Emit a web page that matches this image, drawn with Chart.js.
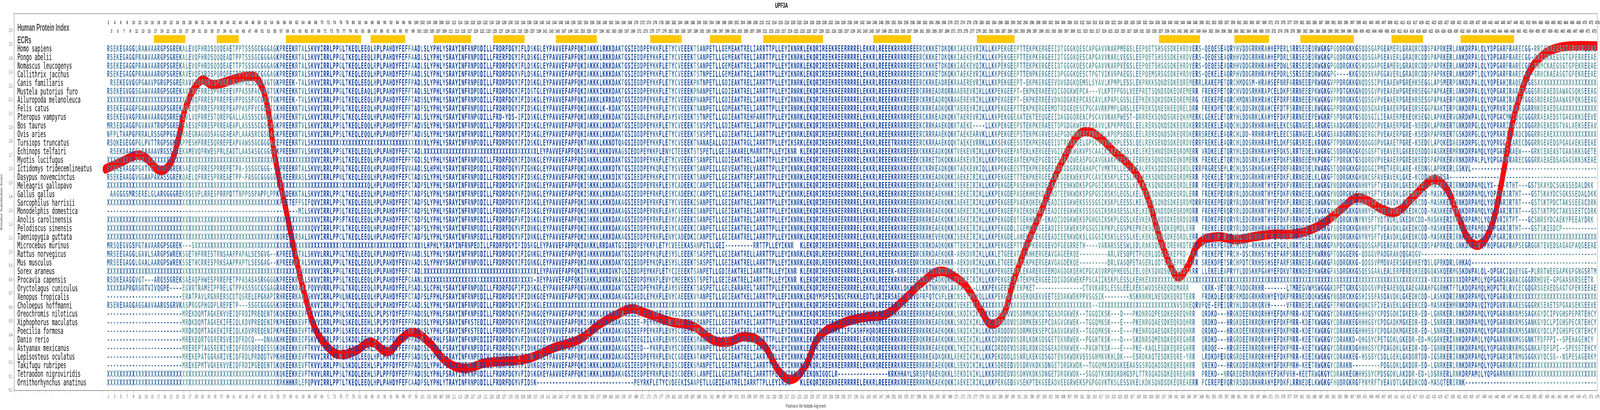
<!DOCTYPE html>
<html>
<head>
<meta charset="utf-8">
<script src="https://cdn.jsdelivr.net/npm/chart.js@4.4.1/dist/chart.umd.min.js"></script>
<style>
  html, body { margin: 0; padding: 0; background: #fff; overflow: hidden; }
  #myChart { display: block; transform-origin: 0 0; }
</style>
</head>
<body>
<canvas id="myChart"></canvas>
<script>
// species shown in the alignment, top to bottom
const species = [
  'Homo sapiens', 'Pongo abelii', 'Nomascus leucogenys', 'Callithrix jacchus', 'Canis familiaris',
  'Mustela putorius furo', 'Ailuropoda melanoleuca', 'Felis catus', 'Pteropus vampyrus', 'Bos taurus',
  'Ovis aries', 'Tursiops truncatus', 'Echinops telfairi', 'Myotis lucifugus', 'Ictidomys tridecemlineatus',
  'Dasypus novemcinctus', 'Meleagris gallopavo', 'Gallus gallus', 'Sarcophilus harrisii', 'Monodelphis domestica',
  'Anolis carolinensis', 'Pelodiscus sinensis', 'Taeniopygia guttata', 'Microcebus murinus', 'Rattus norvegicus',
  'Mus musculus', 'Sorex araneus', 'Procavia capensis', 'Oryctolagus cuniculus', 'Xenopus tropicalis',
  'Choloepus hoffmanni', 'Oreochromis niloticus', 'Xiphophorus maculatus', 'Poecilia formosa', 'Danio rerio',
  'Astyanax mexicanus', 'Lepisosteus oculatus', 'Takifugu rubripes', 'Tetraodon nigroviridis', 'Ornithorhynchus anatinus'
];

const X = n => 'X'.repeat(n);
const D = n => '-'.repeat(n);

// alignment columns 1-93
const seqA = [
  'RSEKEGAGGLRAAVAARGPSGREKALEVQFHRDSQQQEAETPPTSSSGCGGGAGKPREEKRTALSKVVIRRLPPGLTKEQLEEQLRPLPAHDY',
  'RSEKEGAGGPRAAVAARGPSGREKALEVQFHRDSQQQEADTPPTSSSGCGGGAGKPREEKRTALSKVVIRRLPPGLTKEQLEEQLRPLPAHDY',
  'RSEKEGAGGPRAAVAARGPSGREKALEVQFHRDSQQQEAETTPTSSSGCGGGAGKPREEKRTALSKVVIRRLPPGLTKEQLEEQLRPLPAHDY',
  'RSEKEGAGGPRAAAAARGPSGREKAVEVQFYRDSPQRQPETPPTSSSGCGGGAGKPREEKRTALSKVVIRRLPPGLTKEQLEEQLHPLPAHDY',
  'RSEKEGVGGPGAAVPGRGPSGRERAVGTQFRRESPWREAEAHPALSSGGVGTGKPREEK-TALSKVVIRRLPPGLTKEQLEEQLHPLPAHDY',
  'RSEKEGVGGSGAAVAARGPSGREKAVEVQFRRESPRREPEVPPASSFACGGGTSKPREEKKTVLSKVVIRRLPPGLTKEQLEAQLQPLPAHDY',
  X(26) + 'VQFRRESPRREPEVPPDSSFGCGGVTGKPREEK-TVLSKVVIRRLPPSLTKEQLEEQLRPLPAHDY',
  'RSEKEGAGGPGAAVAARGPSGREKAVEVQFRRESPRREPEAPPASFFVCGDGICKHREEKKTVLSKVVIRRLPPSLTKEQLEEQLHPLPAHDY',
  'RSEKEGVAGPRAAVAARGQSRREKSVLVQFRRESTQREPGALLASSSSCGGSAGKPREEKRTVLSKVVIRRLPPSLTKEQLEEQLHPLPAHDY',
  'MRSEDGAGGPGVAVATRGPSGREKSAESQFRRESPRREAEAPLASSSSCGSGAGKPREEKRTVLSKVVIRRLPPSLTKEQLEQQLHPLPAHDY',
  'NFPLTAAPGPRRALRSSGPPGGARRAEGRAGGDSAGGEAEAPLAAASRCGSGAGKPREEKRTVLSKVVIRRLPPSLTKEQLEQQLHPLPAHDY',
  'RSQKEGEGGPGLPVTTRGPSGKEKPPESHFRRESQRREPEAPVAWSSGCGGGAVEPREEKRTVLSK' + X(27),
  'RSEKDAAGGLRAAAAVRGSSGREKAMEVQFRWESPRLEADTLAASASGCGGGGKPREEKRTVLSKVVIRRLPPSLTKEQLEEQLHPLPAHDY',
  X(67) + 'QVVIRRLPPSLTKEQLEEQLHPLPAHDY',
  'RSEKERAGGPGATVGTRGPGGREKSAEVQFRRESPRREPETPA-SSSGCGGG--KPREEKRTALSKVVLRRLPPGLTKEQLEEQLHPLPAHDY',
  'RSEKEAAGGVGGAAPARASSGREKQAELQFRRESPRREAETPP-FASGCGGGGGKSREERRASLSKVVIRRLPPNLTKEQLEEQLHPLPAHDY',
  X(84) + 'QLHPLPAHDY',
  'AAGGGSMRSERELGLARGGGGREKRSEVPLRRESPRRPDTTNPPSSPAPPLPPKQRDEKKTALSKVVIRRLPPCLTKEQLEEQLHPLPAHDY',
  X(55) + 'KPRETEFFSIFQVVIRRLPPSLTKEQLEEQLHPLPAHDY',
  D(63) + 'MILSKVVIRRLPPSLTKEQLEEQLHPLPAHDY',
  X(67) + 'VVIRRLPPSFTKEQLEEQLHPLPAHDY',
  X(67) + 'QVVIRRLPPCLTKEQLEEQLHPLPAHDY',
  X(53) + 'KQREEKRSALSKVVIRRLPPCLTKEQLEEQLHPLPAHDY',
  'MRSQEGVGSPGTAVAARGPSGREK---S' + X(65),
  'MRSEEGAGGLGAVLSARGPSWREKSGETHFRRESTRNSAAPPAPALSESGVG--KPREEKRTALSKVVLRRLPPGLTKEQLEEQLRPLPAHDY',
  'MRSEEGAGGLGAALAARGPSWREKSSETHCRRESPRKSAAPPAPTLSESGAG--KPREEKRTALSKVVLRRLPPGLTKEQLEEQLRPLPAHDY',
  X(67) + 'VVIRRLPPGLTKEQLEEQLHPLPAHDY',
  'RSDKEAAGGVGT---ARGSSGREKSAEAQFHWESPRREPETPPASASASRGGGGKPREEKRTALSKVVIRRLPPSLTKEQLEEQLRPLPAHDY',
  'XXXXXAPRGRGRTVIVQGPE----EGVRTRAMEIPFRELGTPPASSSGCGSGAGRAREEKRAALPQVVVRRLPPGLTKRQLEEQLRPLPAHDY',
  D(24) + 'ERATPAVLRGNRERSCDTQSRELEPGNAPIRHREERKAALSKVVIRRLPPNLNKEQLEEQLHPLPAHDY',
  'RSENEAAGGAGGAAVAARGSGRVKASPRGGPHGDPLREPETP---SSGCGGGGSKSREEKRAILSKVVIRRLPPSLTKEQLEEQLHPLPAHDY',
  D(24) + 'MREKDQMTAGKEKVVEIQFRDIPREQENTSKQKEEKKEVFTKVVIRRLPPNLSKEQLEEQLSPLPSYDY',
  D(24) + 'MRDKDQMTAGKEKIFEIQLKDVPREQENIPKPKEEKKEVFTKVVIRRLPPNLSKEQLEEHLSPLPSYDY',
  D(24) + 'MRDKDQMTAGKEKIFEIQLKDVPREQENIPKPKEEKKEVFTKVVIRRLPPSLSKEQLEEHLSPLPSYDY',
  D(24) + 'MREKEQRTGSRERSVEIQFRDCQ---DNAAKHKEEKKEIFSKVVIRRLPPSLSKDQLEEHLSPLPSFDY',
  D(24) + 'MREREPTAGSRERIVEIQFRDSQREQESSSKQKEEKKEVFTKVVIRRLPPSLSKDQLEEHLSPLPSFDY',
  D(24) + 'MREKEPATGGRARIVEIQFRDLPRDQDTVPKHKEEKKEVFTKVVIRRLPPNLSKEQLEEQLHPLPAYDY',
  D(24) + 'MREKEPMTVGKEKVVEIQFRDIPGEQENTSKQKEEKKEVFTKVVLRRLPPNLSKDQLEEHLSPLPPFDY',
  X(55) + 'KQKEEKKEVFTKVVLRRLPPSLTKDQLEEHLSPLPPFDY',
  X(55) + 'RKHHKRLEFQPVVIRRLPPTLTKEQLEEQLHPLPAHDY'
];

// alignment columns 94-221
const seqB = [
  'FEFFAADLSLYPHLYSRAYINFRNPDDILLFRDRFDGYIFLDSKGLEYPAVVEFAPFQKIAKKKLRKKDAKTGSIEDDPEYKKFLETYCVEEEKTSANPETLLGEMEAKTRELIARRTTPLLEYIKNR',
  'FEFFAADLSLYPHLYSRAYINFRNPDDILLFRERFDGYIFLDSKGLEYPAVVEFAPFQKIAKKKLRKKDAKTGSIEDDPEYKKFLETYCVEEEKTSANPETLLGEMEAKTRELIARRTTPLLEYIKNR',
  'FEIFAADLSLYPHLYSRAYINFRNPDDILLFRDRFDGYIFLDSKGLEYPAVVEFAPFQKIAKKKLRKKDAKTGSIEDDPEYKKFLETYCVEEEKTSANPETLLGEMEAKTRELIARRTTPLLEYIKNR',
  'FEFFAADLSLYPHLYSRAYINFRNPDDILLFRDRFDGYVFLDSKGLEYPAVVEFAPFQKIAKKKLKKKDAKTGSIEDDPEYKKFLETYCVEEEKTSTNPEILLGEMEAKTRELIARRTTPLLEYIKNR',
  'FEFFPADLSLYPHLYSRAYINFRNPEDILLFRDRFDGYIFIDSKGLEYPAVVEFAPFQKIAKKKLKKKDAKTGSIEDDPEYKKFLETYCVEEEKPNTNPETLLGDIEAKTRELIARRTTPLLEYIRNR',
  'FEFFTADLSLYPHLYSRAYINFRDPDDILLFRDRFDGYIFIDSTGLEYPAVVEFAPFQKIAKKKIKKKDAKTGSIEDDPEYKKFLETYCVEEEKPNANPETLLGDIEAKTRELIARRTTPLLEYIRNR',
  'FEFFTADSSLYPHLYSRAYINFRNPDDILLFRDRFDGYIFIDSKGLEYPAVVEFAPFQKIAKKKLKRKDAQTGSIEDDPEYKKFLETYCVEEEKPNANPETLLGDIEAKTRELIARRTTPLLEYIRNR',
  'FEFFTADFSLYPHLYSRAYINFRNPDDILLFRDRFDGYIFIDSKGLEYPAVVEFAPFQKIAKKKLK-KDAKTGSIEDDPEYKKFLETYCVEEEKTNANPETLLGDMEAKTRELIARRTTPLLEYIRNR',
  'FEFFTADLSLYPHLYSRAYINFRNPGDILLFRD-YDS-IFIDSKGLEYPAVVEFAPFQKIAKRRLKKKDAKTGSIEGDLEYKRFLEAYSVEEEKTSTNPETLLGDIEAKTREHFARRTTPLLEYIKNR',
  'FEFFTADVSLYPHLYSRAYINFRNPDDILLFRDRFDGYIFIDSKGLEYPAVVEFAPFQKIAKKKLKKKDAKTGSIEDDPEYKKFLETYCVEEEKTSVSPETLLGDIEAKTRELIARRTTPLLEYIKNR',
  'FEFFTADVSLYPHLYSRAYINFRNPDDILLFRDRFDGYIFIDSKGLEYPAVVEFAPFQKIAKKKLKKKDAKTGSIDDDPEYKKFLETYCVEEEKTSVSPETLLGDIEAKTRELIARRTTPLLEYIKNR',
  X(9) + 'LYPHLYSRAYINFRNPDDILLFRDRFDGYIFIDSKGLEYPAVVEFAPFQKTAKKKLKKNDTQAGSIEDDPEYKKFLETYCVEEEKTNANAEALLGDIEAKTRGLIARRTTPLLEYIKSR',
  'FEFCTADL' + X(36) + 'LEYPAVVEFAPFQKISKKKLKKKDVKAGSIEDDPEYKKFLENYCTEEEKTSTSPETLLGEIEAKARELMARRTTPLLEYIKNR',
  'FEFFTGDLSLYPHLYSRAYINFRNPDDILLFRDRFDGYIFIDNKGLEYPAVVEFAPFQKIAKKKLKKKDAKTGSIDDDPEYKKFLETYCVEEEKTSANPETLLGDIEAKTRELIARRTTPLLEYIKNR',
  'FEVVAADLSLHPHLYSRAYINFRDPDDILLFRDRFDGYVFIGNKGLEYPAVVEFAPFQKIAKKKLKKKDTKTGSIEDDPEYKQFLETYSVEEEKTSANPEILLGEVEAKTRELVARRTTPLLEYIKNR',
  'FEFCTADVSLYPHLYSRAYINFRNPDDILLFRDRFDGYIFIDSKGLEYPAVVEFAPFQKISKKKLKKKDIKTGSIEEDPEYKKFLETYCVEEEKTSANPETLLGEIEAKTREFIARRTTPLLEYIKNR',
  'FEFCTADPSLYPHLYSRAYINFRNPEDILLFRDRFDGYVFIDNKGLEYPAVVEFAPFQKISKKKLKKKDAKAGSIEDDPEYRKFLESYCADEEKICANPETLLGEIEAKTRELIARRTTPLLEYIKNR',
  'FEFCTADPSLYPHLYSRAYINFRNPEDILLFRDRFDGYVFIDNKGLEYPAVVEFAPFQKISKKKLKKKDAKAGSIEDDPEYRKFLESYCADEEKICANPETLLGEIEAKTRELIARRTTPLLEYIKNR',
  'FEFCTADPSLYPHLYSRAYINFRNPDDILLFRDRFDGYVFIDSKGLEYPAVVEFAPFQKISKKKLKKKDAKAGSIEEDPEYRKFLETYCVEEEKISANPETLLGEIEAKTRELIARRTTPLLEYIKNR',
  'FEFCTADPSLYPHLYSRAYINFRNPDDILLFRDRFDGYVFIDSKGLEYPAVVEFAPFQKISKKKLKKKDAKAGSIEDDPEYRKFLEAYCVEEEKISANPETLLGEIEAKTRELIARRTTPLLEYIKNR',
  'FEFCTSDPSLYPHLYSRAYINFRNPEDILLFRDRFDGFVFIDSKGLEYPAVVEFAPFQKISKKKLKKKDAKAGSIEDDPEYRKFLESYCAEEEKISANPETLLGEIEAKTRELIARRTTPLLEYIKNR',
  'FEFCTADPSLYPHLYSRAYINFRNPDDILLFRDRFDGYVFIDNKGLEYPAVVEFAPFQKISKKKLKKKDAKAGSIEDDPEYRKFLESYCADEEKICANPETLLGEIEAKTRELIARRTTPLLEYIKNR',
  'FEFCTADPSLYPHLYSRAYINFRNPEDILLFRDRFDGYVFIDNKGLEYPAVVEFAPFQKISKKKLKKKDAKAGSIEDDPEYRKFLENYCADEDKICANPETLLGEIEAKTRELIARRTTPLLEYIKNR',
  X(8) + 'LHPHLYSRAYINFRNPEDILLFRDRFDGYIFIDSKGLEYPAVVEFAPFQKIAKKKLRRDAKTGSIEDDPEYKKFLETYCVEEEKASANPETLLGEI' + D(9) + 'RRTTPLLEYIKNR',
  'FEVVAADLSLYPHLYSRAYINFRNPDDILLFRDRFDGYIFIGNKGLEYPAVVEFAPFQKIAKKKVKKKDAKTGSIEDDPEYKQFLESYSLEEEKTSASPETLLGEIEAKTRELLARRTTPLLEYIKNR',
  'FEVVAADLSLYPHVYSRAYINFRNPDDILLFRDRFDGYIFIGNKGLEYPAVVEFAPFQKIAKKKLKKKDAKTGSIEDDPEYKQFLESYSLEEEKTSASPETLLGEIEAKTRELLARRTTPLLEYIKNR',
  'FEFCTADL' + X(36) + 'LEYPAVVEFAPFQKITKKKLKKKDVKTGSIEDDPEYKKFLETYCIEEEKTSANPETLLGDIEAKTRELIARRTTRLLEYIKNR',
  'FEFCAANL' + X(35) + '-XEYPAVVEFAPFQKISKKKLKKRDVKAGSIEDDPDYKKFLEVYCMEEEKSSTSPETLLGEIEAKTRELIARRTTPLLEYIKNR',
  'FELFSADLSLCPHLYSRAYINFRNPDDILLFRDRFDGFIFIDSKGLEYPAVVEFAPFQKVAKKKLKKKDAKTGSIEDDPEYKRFLEAYSVEEEKTSASPETLLGELEARARELTARRTTPLLEYIKNR',
  'FEFCTADPSLFPHLFSRAYINFRNPEDILLFRDRFDGYIFIDNKGQEYPAVVEFAPFQKISKKKLKKKDAKAGSIAEDLEYKKFLENYCAEEEKVYANPETLLGEIEAKTKELIARRTTPLLEFIKNR',
  'FEFCAADLSLYPHLYSRAYINFRNPDDILLFRDRFDGYIFIDSKGLE' + X(68) + 'RRTTPLLEYIKNR',
  'FEFFPADQSLYPHLFSRAYINFKNPEDILLFRDRFDGYVFIDNKGQEYPAVVEFAPFQKISKKKLKKKDAKAGSIEE-PEYKRFLENYSCDEEKSMANPETLLGEIEAKTKELIAKRTTPLLEYIKNK',
  'FEFFPADQSLYPHLFSRAYINFKSTEDILLFRDRFDGYVFIDNKGQEYPAVVEFAPFQKISKKKLKKKDAKAGSIEE-PEYKRFLENYSCDEEKSMANPEILLGEIEAKTKELIAKRTTPLLEYIKNK',
  'FEFFPADQSLYPHLFSRAYINFKSTEDILLFRDRFDGYVFIDNKGQEYPAVVEFAPFQKISKKKLKKKDAKVGSIEEFPEYKRFLENYSCDEEKSMANPETLLGEIEAKTRELIAKRTTPLLEYIKNK',
  'FEFFPADQSLYPHLFSRAYINFKNPEDIIIFRDRFDGYVFIDNKGQEYPAVVEFAPFQKVSKKKLKKKDAKAGTIEEGIILKRFLENYSCDEEKSMANPETLLGEIEAKTRELIAKRTTPLLEYIKNK',
  'FEFFPADQSLYPHLFSRAYINFKNPEDIVLFRDRFDGYVFIDNKGQEYPALVEFAPFQKVSKKKLKKKDAKAGSIEED--YKRFLENYSCDEEKSMANPETLLGEIEAKTRELIAKRTTPLLEYIKNK',
  'FEFFSADQSLYPHLFSRAYINFKNPEDIVLFRDRFDGYVFIDNKGQEYPAVVEFAPFQKIAKKKLKKKDAKAGSIEEDPEYRKFLENCCGDEEKATANPETLLGEIEAKTRELIAKRTTPLLEYIKNK',
  'FEFFPADQSLYPHLFSRAYINFKNPEDILLFRDRFDGYVFIDNKGQEYPAVVEFAPFQKISKKKLKKKDAKAGSIEEDPEYRKFLENISCDEEKSMANPETLLGEIEAKTRELIARRTTPLLEYIKNK',
  'FEFFPADQSLYPHLFSRAYINFKNPDDILLFRDRFDGYVFIDSKGKEYAAVVEFAPFQKISKKKLKKKDAKAGSIEEDPEYRKFLENISCDEEKSLANPEILLGEIEAKTRELIARRTTPLLEYIKNK',
  'FEFCAADPSLYPHLYTRAYINFRNPDDILLFRDRFDGYVFIDSK' + D(31) + 'PEYRKFLETYCVDEEKISANPETLLGEIEAKTRELIARRTTPLLEYIRSR'
];

// alignment columns 222-349
const seqC = [
  'KLEKQRIREEKREERRRRELEKKRLREEEKRRRRREEERCKKKETDKQKKIAEKEVRIKLLKKPEKGEEPTTEKPKERGEEIDTGGGKQESCAPGAVVKARPMEGSLEEPQETSHSGSDKEHRDVERS',
  'KLEKQRIREEKREERRRRELEKKRLREEEKRRRRREEERCKKKETDKQKKIAEKEVRIKLLKKPEKGEEPTTEKPKERGEEIDTGGGKQESCAPGAVVKARLVEGSLEEPQETSHSSSDKEHRDVERS',
  'KLEKQRIREEKREERRRRELEKKRLREEEKRRRRREEERCKKKETDKQKKIAEKEVQIKLLKKPEKGEEPTTEKPKERGEEIDTGGGKQESCAPGAVVKARPVEGSLEEPQETSHSGSDKEHRDVERS',
  'KLEKQRIREEKREERRRRELEKKRLREEEKRRRRREEERCKKRETDKQKKTAEKEVRIKLLKKPEKGEEPTTENPKERGEEIDPGGGKQESCTPGTVIKVRPAEGSLEEPQEMSRSGSDKEHRDVERS',
  'KLEKQRIREEKREERRRRELEKKRLREEEKRKRRREEERCKRKEADREKRAAEREVRIKLLKKPEKGEEPT-EKPKERGEEVDVGDGKQEMSLSYAVLKPMPLESSLEKPRKKSQNDSDKEQREMERR',
  'KLEKQRIREEKREERRRRELEKKRLREEEKRKKREEERCRRKEADRQRRAAEREVRIKLLKKPEKGEEPT-EKPKERAEEVDIGDGKWEPCA---VLKPTPFGSLVEEPRETSQNDSDKEQREMERR',
  'KLEKQRIREEKREERRRRELEKKRLREEEKRKKREEERCKRKEADRQKRAAEREVRIKLLKKPEKGEEPT-EKPKERREEVDNGDGKREPCASCAVLKPAPLGSSLEEPKEKSQKDSDKEQREMERG',
  'KLEKQRIREEKREERRRRELEKKRLREEEKRKKRDEERCKRKEADKQKRTAEREVRIKLLKKPEKGEEPTTEKPKERGEEMDTRDGEQESCPGCAVRKPMPLGNSLEEPREKSQNESNEEQRELDRR',
  'KLEKQRIREEKREERRRRELEKKRLREEEKRKRRREEERCKRKEADKQKKTAEREVRIKLLKKPEKGGEAATEKTEEQGEEIDAGDGQREACPSCAVVKAKPWEST-DRRREKSQNDSGKEQKHMERK',
  'KLEKQRIREEKREERRRRELEKKRLREEEKRRRRREEEKCRRKAAEKQKKTAEKE----LLKKPEKGEEPSTEKPKERAEETDPGDGKWEPCPSAVVLKPKPPEGSLEELRERSQNDSDKEQRDKERR',
  'KLEKQRIREEKREERRRRELEKKRLREEEKRRRRREEERCRRRAAEKQKKTAEKEARVKLLKKPEKGEEPSTEKPKGRVEEAEPGDGRWEPCPRGVVLKPQPSEGSLEELRERSQNDSDKEQRDKERR',
  'KLEKQRIREEKREERRRRELERKRLREEETRRRRREEERCKRRAAEKQQKTAEKEVRRKLLKKSEKGEESSTEKPKERGEEIDTRGGKQELGPSCVVVKPRPLESSLQELREKSENDSDKEQRDVERR',
  'KLEKQRIREEKREERRRRELEKKRLREEEKRKRREEEKCKKKEADKQKKTVEKEVRIKLLKKPEKGEEPATEKLKERGEEVGIGDGKWGKVPSCAAIKSKPLESSLKELEKESHNDSDKEQRDMERR',
  'KLEKQRIREEKREERRRRELEKKRIREEEKRKKREEEKCKRKETDKQKKAAEKEVRIKLLKKPDKGEEAATEKPKEPGEDIESGEGQWEASPGCAVGKAKPRESPLEERREKSQNDSDKEQKDMERK',
  'KLEKQRIREEKREERRRRELEKKRLREEEKRKRKKEEEKCKRKEADKQKKTAEKEVKIQLLKKPEKGEESTTEKPKERGEEAGVGDGRREAHAPCTVMKTRLLESLPEALREKSQDDSDGEQRDLERR',
  'KLEKQRIREEKREERRRRELEKKRLREEEKRRRREEERCKRKEADKQKKIAEKEIRIKLLKKPEKGEETTTEKPKERGEEINIGDEKWEKSPCCAVIKSKPLEISLKELKEKSQNDSDKEQRDMERR',
  'KLEKQRIREEKREERRRRELEKKRLREEEKRKRREEERRKRKEAEKHKKISEKEIRIKLLKKPEKGDEPASEKHKEKDEEADTEENKWDKSPGPGSIRSKSLEGSLKELKEKSQNDSDKEQRDLERR',
  'KLEKQRIREEKREERRRRELEKKRLREEEKRKRREEERRKRKEAEKHKKISEKEIRIKLLKKPEKGDEPASEKHKEKDEEADTEENKWDKSPGPGSIRSKSLEGSLKELKEKSQNDSDKEQRDLERR',
  'KLEKQRIREEKREERRRRELEKKRLREEEKRKRREEERRKRKEAEKQKKIAEKEIRIKLLKKPEKGEEPVAEKQKEKGEEADIEEGKWEKSSSSGSIKSKPLEESSLKELKEKSQNDSDKEQRDMDRR',
  'KLEKQRIREEKREERRRRELEKKRLREEEKRKRREEERRKRKEAEKQKKIAEKEIRIKLLKKPEKGEEPAIEKQKEKGEEADIEEGKWEKSSSSGSIKSKASESSLKELKEKSQNDSDKEQRDMDRR',
  'KLEKQRIREEKREERRRRESEKKRLREDEKRKRREEERRKRKEAEKQKKIAEKEIRIKLLKKPEKGDEQTSEKHREK-EKADIDDSKWEKSPGHGSIKSKPLEGSLKEVKEKSQNDSDKEQRDSDRR',
  'KLEKQRIREEKREERRRRELEKKRLREEEKRKRREEERRKRKEAEKQKKIAEKEIRIKLLKKPEKGDDLIGEMKEKGEEADIEESKWEKSPGSGSIKPKPLEGSPKEPKEKSQNDSDKEQMDLERR',
  'KLEKQRIREEKREERRRRELEKKRLREEEKRKRREEERRKRKEVEKQKKISEKEIRIKLLKKPEKGDELANEKHKEKGEEADIEENKWDKSLGSGSIKSKSLESSLKELKEKSQNDSDKEQRDLERR',
  'KLEKQRIREEKREERRRRELEKKRLREEEKRKRREEERCKRKDADKQKKTTEKEIRIKLLKKPEKGEEPTTEKPKERGEEVDFGEGRRETH----VARARSSESWLEDLRAKSQNDIDREHRDTERR',
  'KLEKQRLREEKREERRRRELEKKRLREEEKRKRREEDRCKRKDAEKQKR-AEKDVRIKLLKKLETGEEATTEKHKERGEAVGAGEEKQE---------ARLVESQPETPGERLQDGSDKEPRD--KR',
  'KLEKQRLREEKREERRRRELEKKRLREEEKRKRREEDRCKRKEAERHKR-AEKDVRIKLLKKLETGEEVATEKPKERGEAVGAGDEKQE---------DRLVASQPETAGERLQDTSDKEPRD--KR',
  'KLEKQRIREEKREERRRRELEKKRLREEEK-KRREEERFKRKEADKQKK-SEKEVRIKLLKKPEKGEEVPLEKARERGEEMDAGDGKQEHCPGCASVRPQPHEGSLEELQEKSQNDSGKEQRDIKRR',
  'KLEKQRIREEKREERRRRELEKKRLREEEKRKRREEERCKRKEADKQKKIVEKEIRIKLLKKPEKGEEPATEKPKERGEEIDIGDGKWEKFPSCAIIKSKPLESSLKEHKE' + X(18),
  'KLEKQRIREEKREERRRRELEKKRLRQISKRKLQKKFKLLKTNKQNHLAARA----LLKKPEKGEEPTTEKPKET' + D(15) + 'CTVVKARSLESSLEELREKSWVDSEKEQRDMARR',
  'KLEKQYMSPESINSCFKKKLEDTLQRIERSAEVIQQVDFRFQTCSFLEKCNSSTPKVQLLKKPEKGDEAASEKQKEKVEETEEDAKWEKPPVSGSIK--------NSKKNRNLNESDKEQRDTERR',
  'KLEKQRIREEKREERRRRELEKKRLREEEKRKRREEERCKRKEADKQKKIVEKEIRIK' + X(35) + '--' + X(24) + 'NVSDKEQRVMERR',
  'KIEKQRIREEKREERRRRELEKKRQREEEKRKRREEERRKRKEAEKQKKLSKDIKIKLLKKSDRDDDVDSDRMKDKSDTGEADRGKWEK--TGGQIKSK---D---PKDNRGQPESDKEQREQHRR',
  'KIEKQRIREEKREERRRRELEKKRQREEEKRKRREEERRKRKEAEKQKKLSKDIKIKLLKKSDRDDDVDSDRMKEKSEPCDAGVGKWEK--TGGQMKSK---E---PKENRGQAESDKEQRDQHRR',
  'KIEKQTRAKANRKIIFCASHFHQRQREEEKRKRREEERRKRKEAEKQKKLSKDIKIKLLKKSDRDDDVDSDRMKEKSEPCDAGVGKWEK--TGGQMKSK---E---PKENRGQAESDKEQRDQHRR',
  'KLEKQRIREEKREERRRRELEKKRQREEEKRKRREEERQKRKEAEKQKKLSKEIKIKLLKKCDRDDDVDSDRLKDKGDSGETEKNRWEK--PGGHTKSK---D---SKDNRSQMENDKEQREGHRR',
  'KLEKQRIREEKREERRRRELEKKRQREEEKRKRREEERRKRKEAEKQKKLTKEIKIKLLKKCDRDDEVDSDRLRDKGDSGEADRNKWEK--PAGHTKSK---E---PKE-KAQLESDKEQREGHRR',
  'KLEKQRIREEKREERRRRELEKKRLREEEKRKRREEERRRKEADKQKKLAEKEIKIKLLKKPEKDDDLDSNRLKEKGDSGDTENSKWDKVSSSGHMKVKHLDK---ESRDKAQTESDKEQRE-YRR',
  'KIEKQRLREEKREERRRRELEKKRQREEEKRKRREEERRKRKEAEKQKKLSEKDIKIKLLKKSDREEDVDSDRVKDKSDNGETDRGKWDK--TGGQMKSKDSKEEAASGSRGQADSDKEQREQHRR',
  'KIEKQNIGQCLR' + D(16) + 'KRKHHAYLSRSQFQAEKQKKLSEKDIKIKLLKKSDRDEDVDSDHVKDKSDNGETDRGKWDK--SGGQTKSKDSKDHGSPLTTRGQADSDKEQREQHRR',
  'KLEKQRIREEKREERRRRELEKKRLREEEKRKRREEERRKRKEAEKQKKIAEKEIRIKLLKKPEKGEDSVSEKPTEKGEEADVEEGRWEKSPGPGGVKTKSLESSVKELKDKSQNDSDKEQREAERR'
];

// alignment columns 350-475
const seqD = [
  '-QEQESEAQRYHVDDGRRHRAHHEPERLSRRSEDEQRWGKGPGQDRGKKGSQDSGAPGEAMERLGRAQRCDDSPAPRKERLANKDRPALQLYDPGARFRARECGG-RRICKAEGSGTGPEKREEAE',
  '-QEQESEAQRHHVDDGRRHRAHHEPDRLSRRSEDEQRWGKGPGQDRGKKGSQDSGAPGEAVERLGRAQRCDDSPAPRKERLANKDRPALQLYDPGARFRARECGG-RRICKAEGSGTGPERREEAE',
  '-QEQESEAQRHHVDDGRRHRAHHEPDWLSRRSEDEQRWGKGPGQDRGKKGSHDSGAPGEAMERLGRAQRCDDSPAPRKERLANKDRPALQLYDPGARFRARECGG-RRMCKAEGSGTGPEKREEAE',
  '-QEKELEAQRPHVDDGRRHRAYHEPDRLSSRSEDEQRWGKGPG----KKGSQDSVAPGGAVERLGRAQRCDDSPAPRKERLANKDRPTLQLYDPGARFRARECGG-GRNCKAEASGTGPEKREEAE',
  'LRAKEPETQRCHMDGSM-HRAHSEFNRFARRNEEEPRWGKGVPPDRGKKGNQDSSIPVEAAEWPGREHKSEGGLAPSMERPGNKDLPALQLYQPEAHIRAQESGGGS' + X(18),
  'FREKEPETQRCHVDDSRKHRAPCELDKFSRRNEEEPKWGKGVPPDTGKKGNQDSGVPVEAAEWPGREHRSEGGPAPKAERLGNKDRPALQLYQPGARIRARETGGGSRGEAEDSAWAGSQKSEEAG',
  'CREKEPEAQRCHMDNSRKHRAHCEFDRFSRRNEEEPKWGKGVPPDRGKKGSQDSGVPVEAAERPGREHRSESGPAPKAERPGNKDRPALQLYQPGARIRARETGGGSRDEAEDAAWAGPQKSEEAG',
  'FREKDPETQRCHLDDSRKQRAHCEFDTFSRRNEEELRWGKGGPPDRGKKGSQDSGNAVEAAERPGKEQRSEGGPAAKTERPGNKDRPALQLYQPRVRIRAREGGRRNKDEAEDSA' + X(10),
  'LGEKELETQRYHLDDNRKLKAHYEFDKFSRRNEEEPEWGKRFSPDRGRTGSQDSGILIEAAERPEKEQKSEGDLAPKKERVGNRDWPALQLYQPGACMKIQGCGGGRRAEAEDSTGAGSKKSEEVE',
  'SREKELEAQQCHLDDSRKHRAHHELEKCSGRNGEELARGKGSAADGGRRGSQDRGCPVEAAERPGRE-NSEDRLAPRKERTGNKDRPGLQLYQPRARIRACDCDGGRRGEAEDSTVALAEKSEEAV',
  'SREKELEAQRCHLDD-RRHRARYELEECSGRNGEELASGKGSAADGRRRGSQERGCPVEAAERPGRE-KSEDRPAPRKERTGSKDRPGLQLYQPRARIRARDCDGGRRGEAE' + X(14),
  'FREKELEAQRCHLDDSRKHRARYELDKFSGRSREELKRGKGFTPDRGKKGSQDGGGPVGAAETPGRE-KSEDELAPQKEDAGSKDRPGLQLYQPRGGIRARECDGGRRGEVEDSPGAGAEKSEEAE',
  'VRDKELETQRYHLEDGRKHRAHYEFDKSLRRTEDELKWGKGCSQDRGKQGKQSGSFTVEAVERLGKEEQSDDDVASRKERMRNKDRPAMQLYQPGARIRAEW---GRKCEAEASTGAASKKSGETE',
  'FREKELETQRYHLDDSRKLRAHYEFDKFSRRNEEEMKPGKGFTPDRGKTGSQDRGVPVEAAERPGREQKSEDSPAPRKERVRNKDRPALPLYQPGARMRARECGGGRRAEAEDSAGAGSKKSKEAE',
  'PRGRESEMLRCHLDSSRKHGAHSEFDRFARRNEDELRWARGSTQDRGKKGRQDGGIPMETAERLARE-KEDNGLAPRKERLGSKVL-',
  'FQEKELETQRYHLDDGRKHRVHYEFDKFLRRNEDELKLGKGFTQDRGKKGHQNCSFAVEAVEKLGKE-KCDDWHPKRSA-',
  'FREKEPERQRYRLDDGRKHRTHYEFDKFVRRNEEELKWGKGYNQDRGKKGNHNYSFTVEAVDKLGKEDKCDD-MASKKERIRNKDRPAMQLYX----RTHT---GSTSKAYDCSGKSSEDALDKK',
  'FREKEPERQRYRLDDGRKHRTHYEFDKFVRRNEEELKWGKGYNQDRGKKGNHNYSFTVEAVDKLGKEDKCDD-MASKKERIRNKDRPAMQLYQPGARIRTHT---GSTSKAYDCSGKSSEDALDKK',
  'FREKEPERQRYRLDDGRKHRTHYEFDKFLRRNEDELKWGKGYNQDRGKKGNHNYSFTVEAVDKLGKEDKCDD-MASKKERIRNKDRPAMQLYQPGARIRTRT---GSTSKTPDCTAKSSEEACDRK',
  'FREKEPERQRYRLDDGRKHRTHYEFDKFLRRNEDELKWGKGYNQDRGKKGNHNYSFTVEAVDKLGKEDKCDD-MASKKERIRNKDRPAMQLYQPGARIRTRT---GSTSKTPDCTAKSSEETCDRK',
  'FRDKEPERQRYRLEDGRKHRTHYEFDKFVRRNDDEVKWGKGYNQDRGKVNYNYSFTVDTVDKLGKEDKCDD-MASKKERIRNKDRPAMQLYQPGVRIRTPT---GCSNRSYDCAEKYPEEAYDRK',
  'FREKELERQRYRLDDGRKHRAHYEFDKFMRRNEEELKWGKGYSQERGKKGNHNYSFTVEAVDKLGKEDKCDD-MASKKERIRNKDRPAMQLYQPGARIRTHT---GSTSKISDCP-',
  'FREKEPERQRYRLDDGRKHRTHYEFDKFMRRNEEELKWGKGYNQDRGKKGNYNYSFTVEAVDKLGKEDKCDD-MASKKERIRNKDRPAMQLYQPGARIR' + X(25),
  'PREKEPEAQRCHIDD-RKHRAHCEPGRLRRRTEAELRNGRGPAPDGGKKGGQDSGAPGEAEARTGRGQRCEDSPAPRKEQLGNKDRPAVQPHQPGAGPRAPSEGRGGKTEVEDSAGAGPAQGEEAE',
  'FREKEPETPRCH-DSCRKHSTHSEFARFSRRSEEEPKWRKGFTQDGGERG-QDGGVPADGRAKQQGAQGV-',
  'SREKDPETSRCHPDTCRKHSSHSEFARFSRRNEDEAKWGKGFAQDRGKKG-QDGSVPMDVAERSGKEHKEYDSLGPRKDRLGHKAQ-',
  'LLEKELEAPRYYLDDSKKPGAHYEFDKVTRKNDEEPKWGKGFASDRGKKGSQESGAALEALERPEREQKSEDGQASKQERMGSKDWPALQL-QPGACIQAEYGG-PLRRTWEEGAPKGPGNGSRTM',
  X(72) + '-' + X(10) + 'DRPAMQLYQPGARSRARACGGGRRHDVE-GPGAASKRSEETR',
  'CKRK-VETQRCPADDGRKHR-------LTMREGVWMSWGGGKDPETGRKGSQDGSVPVEAAENQLRAEGARAHPGGRHKTFTLKDQPAMQLHQPGTRLRVCECGQGRSGEAEDSAGTGPEKSEEAE',
  'FRDKDLERQRFRMDDGRKHRNHYEYDKFMRRNEDDQKWSKGYNQDRCKKGSHISSFASDAVDKLGKEDKCDD-LASKKDRIRNKDRPAMQLYQPGARNR' + X(25),
  'FQE-EPEIQRYHLDDGRKQRVH-----VFRRNEDELKWGEGFTPHRGKKGHQNCSFIVEAVEKLGKEEKCED-MASKKEHMRNKDRPAVQIYQPGVRVRARESGGGRKSEAETSPGAASEKSEEVE',
  'QRDKD---HRGKDEERKRQRHHYEFDKFMRR-KDETKWGKGYCDRAKKEGHHHGSYCPDSGDKIGKEER-ED-LGNRKERLRNKDRPAMQLYQPGARNRKRMSSAGKGYDCIPVGHSPEPRTEHCY',
  'QRDKD---HRGKDEERKRQRHHYEFDKFMRR-KDETKWGKGYCDRAKKEGHHHGSYCPDGADKMGKEDR-ED-LSNRKERLRNKDRPAMQLYQPGARNRKRMSSANKGYDCLPIGHSPECRTEHCY',
  'QRDKD---HRGKDEERKRQRHHYEFDKFMRR-KDETKWGKGYCDRAKKEGHHHSSYCPDGADKMGKEDR-ED-LSNRKERLRNKDRPAMQLYQPGARNRKRMSSANKGYDCLPIGHSPECRTEHCY',
  'QRDKD---HRGRDEERKRQRHHYEFDKFMRR-KEETKWGKGYCDRAKKD-QHGSYCPETGDKLGKEDR-ED-MGSRKERIRNKDRPAMQLYQPGARNRKRMGSGNKTFDFPPI--SPEHAGEHCY',
  'QRDQE---HRGREEERKRQRHHYEFDKFMRR-KEETKWGKGYCDRAKKDGHHHGSYCPDAGDKLGKEDR-DD-IGNRKERIRNKDRPAMQLYQPGARNRKRMGSGNKAFDFSPI--SPESSTEHCY',
  'LRDKDPERQRGRDEERKRQRHHYEFDKFMRR-KEEIKWGKGYCDRAKKEG-HSSSYCSDLGEKLGKDDRTDD-IGSRKERIRNKDRPAMQLYQPGARSRTRMGSGGKVYDCSS--NSPESAGERKY',
  'QREKD---HRGKDDERKRQRHHYDFDKFMRH-KEETRWGKGYCDRAKN---------PDGGDKLGKDDR-ED-LGNRKERLRNKDRPAMQLYQPGARNRKRI' + X(24),
  'PREKD--NRGKEDERKRQRHHYEFDKFVRH-KEETRWGKGYCDRAKKEGHHHSSYCPDSGDKLAKDDR-ED-LDSRKERLRNKDRPAMQLYQPGARNRKR' + X(25),
  'FCEREPERQRYRSDDGRKHRAHYEPDKFLRRNEDELKWGKGFHQDRGKRGFYNYRFTVEAVDTLGKEDKCDD-MASQTERIRNK-'
];

// where each block starts and how many columns it spans
const blockLen = [93, 128, 128, 126];

// Human Protein Index: column, relative substitution score
const curveCols = [0, 5, 10, 13, 17.5, 21, 23.5, 26, 30.5, 34, 37, 41, 45.5, 48.5, 51.5, 54, 57.5, 61, 64, 67, 71, 74.5, 80, 84.5, 90,
  94, 98, 103, 108.5, 114.5, 121, 126.5, 134.5, 143, 151, 157.5, 163, 167.5, 172, 179.5, 187.5, 193, 198, 204, 209.5, 214.5, 218.5,
  223, 227, 234, 242, 248.5, 254, 260, 265.5, 270.5, 274.5, 278.5, 282, 286, 289, 293, 297.5, 301.5, 305.5, 309.5, 313, 317, 321, 325, 329, 332.5, 335.5, 339, 341.5, 344.5, 348,
  354, 360, 365.5, 372, 378, 383.5, 388.5, 393.5, 398, 402, 406.5, 411, 416, 421, 424, 427.5, 430.5, 434.5, 438, 441.5, 444.5, 447.5, 450, 453.5, 457.5, 461.5, 467, 475];
const curveScores = [1.60, 1.65, 1.70, 1.68, 1.59, 1.65, 1.84, 2.07, 2.24, 2.21, 2.22, 2.25, 2.27, 2.25, 2.07, 1.69, 1.31, 0.93, 0.65, 0.44, 0.31, 0.26, 0.29, 0.35, 0.28,
  0.37, 0.42, 0.35, 0.21, 0.16, 0.20, 0.21, 0.23, 0.31, 0.37, 0.48, 0.55, 0.59, 0.56, 0.50, 0.46, 0.37, 0.35, 0.39, 0.33, 0.14, 0.08,
  0.18, 0.38, 0.48, 0.53, 0.55, 0.65, 0.78, 0.86, 0.82, 0.74, 0.59, 0.48, 0.55, 0.78, 1.03, 1.27, 1.50, 1.69, 1.84, 1.87, 1.82, 1.73, 1.65, 1.54, 1.35, 1.12, 0.91, 0.82, 0.89, 1.06,
  1.11, 1.09, 1.11, 1.13, 1.13, 1.16, 1.22, 1.31, 1.39, 1.37, 1.31, 1.29, 1.39, 1.50, 1.52, 1.44, 1.27, 1.08, 1.06, 1.20, 1.50, 1.88, 2.10, 2.31, 2.42, 2.47, 2.49, 2.49];

// ECR regions (column ranges)
const ecrStart = [15.5, 35.5, 57.5, 84.5, 104.5, 123.5, 143.5, 173.5, 192.5, 209.5, 244.5, 277.5, 335.5, 359.5, 380.5, 409.5, 431.5];
const ecrEnd = [25.5, 42.5, 81.5, 95.5, 116.5, 133.5, 156.5, 183.5, 202.5, 228.5, 256.5, 289.5, 348.5, 370.5, 397.5, 419.5, 448.5];

// ---- build full rows ----
function fitBlock(s, n, alignRight) {
  if (alignRight) {
    if (s.length > n) return s.slice(s.length - n);
    const f = '-X'.includes(s[0]) ? s[0] : ' ';
    return f.repeat(n - s.length) + s;
  }
  if (s.length > n) return s.slice(0, n);
  const l = s[s.length - 1];
  return s + (('-X'.includes(l)) ? l : ' ').repeat(n - s.length);
}
const blocks = [seqA, seqB, seqC, seqD];
const rows = species.map((_, i) => blocks.map((b, k) => fitBlock(b[i], blockLen[k], k === 0)).join(''));
const nCols = rows[0].length;

// column shading by agreement between species
function mix(a, b, t) { return a.map((v, i) => Math.round(v + (b[i] - v) * t)); }
const dark = [12, 58, 160], mid = [78, 130, 168], light = [142, 200, 150];
const colColors = [];
for (let c = 0; c < nCols; c++) {
  const counts = {};
  let n = 0;
  rows.forEach(r => { const ch = r[c]; if (ch !== 'X' && ch !== '-' && ch !== ' ') { counts[ch] = (counts[ch] || 0) + 1; n++; } });
  const best = n ? Math.max(...Object.values(counts)) / n : 0.6;
  const rgb = best >= 0.6 ? mix(mid, dark, (best - 0.6) / 0.4) : mix(light, mid, best / 0.6);
  colColors.push(`rgb(${rgb[0]},${rgb[1]},${rgb[2]})`);
}

// column labels on top: human numbering, N/A on gaps
const topLabels = [];
let resNo = 1;
for (let c = 0; c < nCols; c++) {
  if (rows[0][c] === '-') topLabels.push('N/A');
  else { resNo++; topLabels.push(String(resNo)); }
}

const ROW_TOP = 91, ROW_STEP = 21.92;
const NARROW = '"Liberation Sans Narrow", "Liberation Sans", sans-serif';

const alignmentPlugin = {
  id: 'alignment',
  beforeDatasetsDraw(chart) {
    const { ctx, chartArea, scales: { x } } = chart;
    ctx.save();
    ctx.strokeStyle = '#8a8a8a';
    ctx.lineWidth = 1.5;
    ctx.strokeRect(chartArea.left, chartArea.top, chartArea.right - chartArea.left, chartArea.bottom - chartArea.top);
    ctx.fillStyle = '#ffc800';
    ecrStart.forEach((s, i) => {
      const x0 = x.getPixelForValue(s), x1 = x.getPixelForValue(ecrEnd[i]);
      ctx.fillRect(x0, chartArea.top + 55, x1 - x0, 20);
    });
    ctx.fillStyle = '#444';
    ctx.textBaseline = 'middle';
    ctx.font = 'bold 25px ' + NARROW;
    ctx.fillText('Human Protein Index', chartArea.left + 16, chartArea.top + 37);
    ctx.fillText('ECRs', chartArea.left + 16, chartArea.top + 69);
    ctx.font = 'bold 13px ' + NARROW;
    ctx.textAlign = 'center';
    topLabels.forEach((t, c) => {
      ctx.fillText(t, x.getPixelForValue(c + 1), chartArea.top + (c % 2 === 0 ? 23 : 45));
    });
    ctx.textAlign = 'left';
    ctx.fillStyle = '#000';
    ctx.font = '23px "DejaVu Sans Mono", monospace';
    species.forEach((s, i) => ctx.fillText(s, chartArea.left + 16, chartArea.top + ROW_TOP + i * ROW_STEP));
    ctx.restore();
  },
  afterDatasetsDraw(chart) {
    const { ctx, chartArea, scales: { x } } = chart;
    ctx.save();
    ctx.textAlign = 'center';
    ctx.textBaseline = 'middle';
    ctx.font = 'bold 22px "DejaVu Sans Mono", monospace';
    rows.forEach((r, i) => {
      const py = chartArea.top + ROW_TOP + i * ROW_STEP;
      for (let c = 0; c < r.length; c++) {
        if (r[c] === ' ') continue;
        ctx.fillStyle = colColors[c];
        ctx.fillText(r[c], x.getPixelForValue(c + 1 - 0.7 * c / nCols), py);
      }
    });
    ctx.fillStyle = '#000';
    ctx.font = 'bold 19px ' + NARROW;
    ctx.fillText('UPF3A', chartArea.left + (chartArea.right - chartArea.left) * 0.4847, 15);
    ctx.restore();
  }
};

// the page is laid out at 7718x1050 and fitted to whatever viewport we get
const W = 7718, H = 1050;
const sx = window.innerWidth / W, sy = window.innerHeight / H;
const canvas = document.getElementById('myChart');
canvas.style.width = W + 'px';
canvas.style.height = H + 'px';
canvas.style.transform = `scale(${sx}, ${sy})`;

const config = {
  type: 'line',
  data: {
    datasets: [{
      label: 'Human Protein Index',
      data: curveCols.map((c, i) => ({ x: c, y: curveScores[i] })),
      borderColor: 'rgba(255, 0, 0, 0.97)',
      borderWidth: 24,
      pointRadius: 0,
      tension: 0.4,
      borderCapStyle: 'round',
      borderJoinStyle: 'round'
    }]
  },
  options: {
    responsive: false,
    animation: false,
    devicePixelRatio: window.devicePixelRatio * Math.max(sx, sy, 1),
    layout: { padding: { top: 35, right: 12, left: 0, bottom: 0 } },
    plugins: { legend: { display: false }, title: { display: false }, tooltip: { enabled: false } },
    scales: {
      x: {
        type: 'linear',
        min: -29,
        max: 475,
        afterFit: s => { s.height = 50; },
        ticks: {
          stepSize: 2,
          autoSkip: false,
          maxRotation: 0,
          color: '#555',
          font: { family: NARROW, size: 12 },
          callback: v => (v >= 1 && Math.abs(v % 2) === 1) ? String(v) : ''
        },
        grid: { drawOnChartArea: false, tickLength: 6, color: '#aaa' },
        border: { color: '#8a8a8a' },
        title: {
          display: true,
          text: 'Position in the Multiple Alignment',
          color: '#333',
          font: { family: NARROW, size: 13 },
          padding: { top: 2, bottom: 2 }
        }
      },
      y: {
        min: 0,
        max: 2.723,
        afterFit: s => { s.width = 68; },
        ticks: {
          stepSize: 0.1,
          color: '#555',
          font: { family: NARROW, size: 12 },
          callback: v => Math.abs(v * 10 - Math.round(v * 10)) < 0.01 ? v.toFixed(1) : ''
        },
        grid: { drawOnChartArea: false, tickLength: 5, color: '#aaa' },
        border: { color: '#8a8a8a' },
        title: {
          display: true,
          text: 'Relative Substitution Score',
          color: '#333',
          font: { family: NARROW, size: 12 },
          padding: { top: 0, bottom: 8 }
        }
      }
    }
  },
  plugins: [alignmentPlugin]
};

new Chart(canvas, config);
</script>
</body>
</html>
